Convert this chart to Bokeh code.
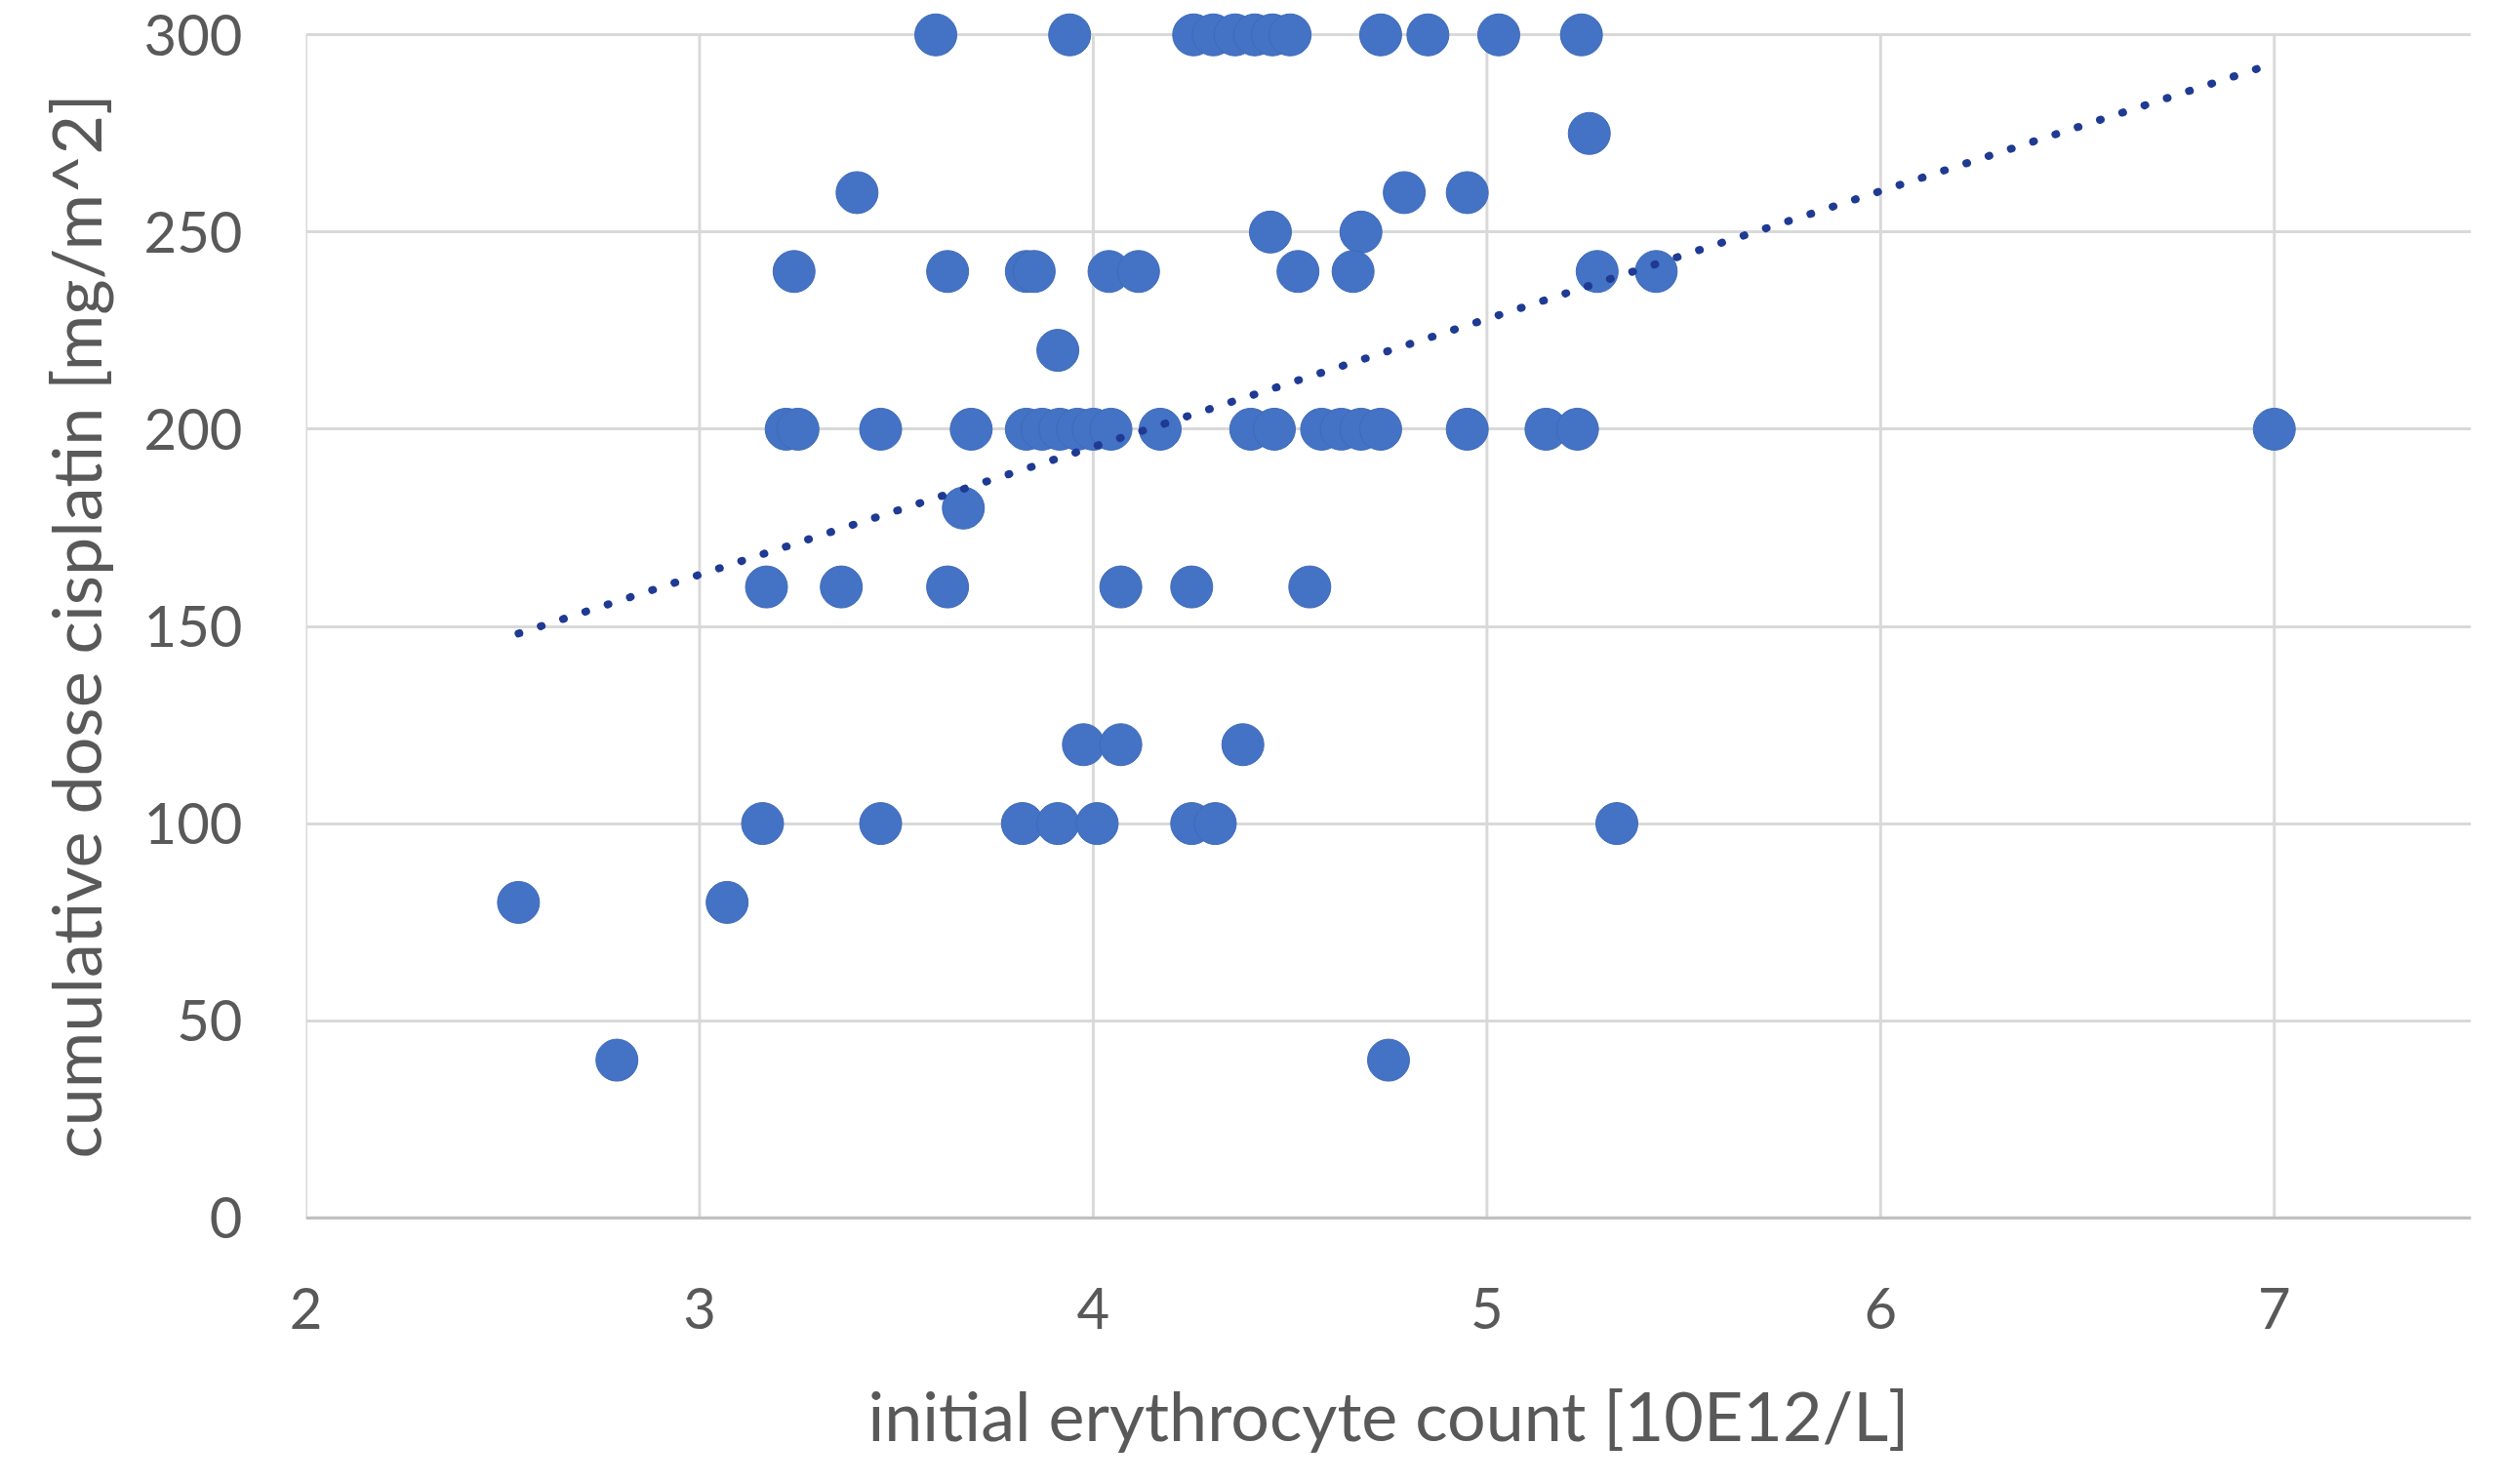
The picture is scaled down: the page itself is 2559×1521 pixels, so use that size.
from bokeh.plotting import figure
from bokeh.models import Range1d, FixedTicker, Span
from bokeh.embed import file_html
from bokeh.resources import INLINE

# data: (erythrocyte count, cumulative cisplatin dose)
erythro = [
    3.60, 3.94, 4.255, 4.305, 4.36, 4.41, 4.455, 4.50, 4.73, 4.85, 5.03, 5.24,
    5.26,
    3.40, 4.79, 4.95,
    4.45, 4.68,
    3.24, 3.63, 3.83, 3.85, 4.04, 4.115, 4.52, 4.66, 5.28, 5.43,
    3.91,
    3.22, 3.25, 3.46, 3.69, 3.83, 3.87, 3.915, 3.96, 4.00, 4.045, 4.17, 4.40, 4.46,
    4.58, 4.63, 4.68, 4.73, 4.95, 5.15, 5.23, 7.00,
    3.67,
    3.17, 3.36, 3.63, 4.07, 4.25, 4.55,
    3.975, 4.07, 4.38,
    3.16, 3.46, 3.82, 3.91, 4.01, 4.25, 4.31, 5.33,
    2.54, 3.07,
    2.79, 4.75,
]
dose = (
    [300] * 12 + [275] + [260] * 3 + [250] * 2 + [240] * 10 + [220]
    + [200] * 21 + [180] + [160] * 6 + [120] * 3 + [100] * 8 + [80] * 2 + [40] * 2
)

trend_x = [2.54, 7.00]
trend_y = [148.2, 292.8]

x_ticks = [2, 3, 4, 5, 6, 7]
y_ticks = [0, 50, 100, 150, 200, 250, 300]

FONT = "Lato"
TXT = "#595959"
GRID = "#d9d9d9"

p = figure(
    width=2543, height=1505,
    x_range=Range1d(2, 7.5), y_range=Range1d(-6, 306),
    output_backend="svg", toolbar_location=None,
    min_border_left=313, min_border_right=11, min_border_top=11, min_border_bottom=233,
)
p.outline_line_color = None
p.background_fill_color = "white"
p.border_fill_color = "white"

# grid
p.xgrid.visible = False
p.ygrid.ticker = FixedTicker(ticks=y_ticks)
p.ygrid.grid_line_color = GRID
p.ygrid.grid_line_width = 3
p.segment(x0=x_ticks, y0=[0] * len(x_ticks), x1=x_ticks, y1=[300] * len(x_ticks),
          line_color=GRID, line_width=3)
p.add_layout(Span(location=0, dimension="width", line_color="#bfbfbf", line_width=3))

# axes
p.xaxis.ticker = FixedTicker(ticks=x_ticks)
p.yaxis.ticker = FixedTicker(ticks=y_ticks)
for ax in (p.xaxis, p.yaxis):
    ax.axis_line_color = None
    ax.major_tick_line_color = None
    ax.minor_tick_line_color = None
    ax.major_tick_out = 0
    ax.major_label_text_font = FONT
    ax.major_label_text_font_size = "58px"
    ax.major_label_text_color = TXT
    ax.axis_label_text_font = FONT
    ax.axis_label_text_font_size = "70px"
    ax.axis_label_text_font_style = "normal"
    ax.axis_label_text_color = TXT
p.yaxis.major_label_standoff = 65
p.xaxis.major_label_standoff = 47
p.yaxis.axis_label_standoff = 26
p.xaxis.axis_label_standoff = 43
p.xaxis.axis_label = "initial erythrocyte count [10E12/L]"
p.yaxis.axis_label = "cumulative dose cisplatin [mg/m^2]"

# points
p.scatter(erythro, dose, size=43, fill_color="#4472c4", line_color="#3f6ab8", line_width=1)

# linear trendline
p.line(trend_x, trend_y, line_color="#1f3a93", line_width=8, line_dash="1 23",
       line_cap="round")

open("out.html", "w").write(file_html(p, INLINE))
